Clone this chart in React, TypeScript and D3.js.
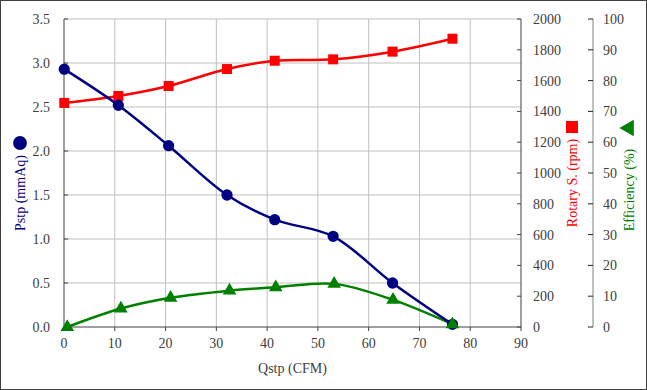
import React from "react";
import * as d3 from "d3";

// values
const qPress = [0.05, 10.7, 20.6, 32.1, 41.5, 53.0, 64.7, 76.5];
const pstp = [2.93, 2.52, 2.06, 1.5, 1.22, 1.03, 0.5, 0.03];
const rpm = [1455, 1500, 1565, 1675, 1729, 1738, 1788, 1872];
const qEff = [0.65, 11.2, 21.0, 32.6, 41.7, 53.2, 64.8, 76.5];
const eff = [0, 6, 9.5, 11.8, 12.9, 14.0, 8.8, 0.9];

const xTicks = [0, 10, 20, 30, 40, 50, 60, 70, 80, 90];
const pTicks = [0, 0.5, 1, 1.5, 2, 2.5, 3, 3.5];
const rTicks = [0, 200, 400, 600, 800, 1000, 1200, 1400, 1600, 1800, 2000];
const eTicks = [0, 10, 20, 30, 40, 50, 60, 70, 80, 90, 100];

const W = 647;
const H = 390;
const left = 64;
const right = 521;
const top = 19;
const bottom = 327;
const effAxisX = 593;

const NAVY = "#000080";
const RED = "#ff0000";
const GREEN = "#008000";
const TXT = "#404040";
const FONT = "'Liberation Serif', 'Times New Roman', serif";

export default function App() {
  const x = d3.scaleLinear().domain([0, 90]).range([left, right]);
  const yP = d3.scaleLinear().domain([0, 3.5]).range([bottom, top]);
  const yR = d3.scaleLinear().domain([0, 2000]).range([bottom, top]);
  const yE = d3.scaleLinear().domain([0, 100]).range([bottom, top]);

  const curve = d3.curveCatmullRom.alpha(0.5);
  const line = d3.line<[number, number]>().x((d) => d[0]).y((d) => d[1]).curve(curve);

  const pPts: [number, number][] = qPress.map((q, i) => [x(q), yP(pstp[i])]);
  const rPts: [number, number][] = qPress.map((q, i) => [x(q), yR(rpm[i])]);
  const ePts: [number, number][] = qEff.map((q, i) => [x(q), yE(eff[i])]);

  const circle = d3.symbol().type(d3.symbolCircle).size(100)() as string;
  const square = d3.symbol().type(d3.symbolSquare).size(100)() as string;
  const triangle = d3.symbol().type(d3.symbolTriangle).size(80)() as string;

  return (
    <svg
      width={W}
      height={H}
      style={{ position: "absolute", left: 0, top: 0, background: "#fff" }}
      fontFamily={FONT}
      fontSize={14}
    >
      <rect x={0.5} y={0.5} width={W - 1} height={H - 1} fill="#fff" stroke="#404040" />

      {/* grid */}
      {xTicks.slice(1, -1).map((t) => (
        <line key={"gx" + t} x1={x(t)} x2={x(t)} y1={top} y2={bottom} stroke="#c0c0c0" />
      ))}
      {pTicks.slice(1).map((t) => (
        <line key={"gy" + t} x1={left} x2={right} y1={yP(t)} y2={yP(t)} stroke="#c0c0c0" />
      ))}

      {/* axes */}
      <line x1={left} x2={left} y1={top} y2={bottom} stroke="#404040" />
      <line x1={left} x2={right} y1={bottom} y2={bottom} stroke="#404040" />
      <line x1={right} x2={right} y1={top} y2={bottom} stroke="#404040" />
      <line x1={effAxisX} x2={effAxisX} y1={top} y2={bottom} stroke="#808080" />

      {xTicks.map((t) => (
        <g key={"xt" + t}>
          <line x1={x(t)} x2={x(t)} y1={bottom} y2={bottom + 4} stroke="#404040" />
          <text x={x(t)} y={348} textAnchor="middle" fill={TXT}>{t}</text>
        </g>
      ))}
      {pTicks.map((t) => (
        <g key={"pt" + t}>
          <line x1={left} x2={left + 4} y1={yP(t)} y2={yP(t)} stroke="#404040" />
          <text x={50} y={yP(t)} dy="0.35em" textAnchor="end" fill={TXT}>{t.toFixed(1)}</text>
        </g>
      ))}
      {rTicks.map((t) => (
        <g key={"rt" + t}>
          <line x1={right - 4} x2={right} y1={yR(t)} y2={yR(t)} stroke="#404040" />
          <text x={533} y={yR(t)} dy="0.35em" fill={TXT}>{t}</text>
        </g>
      ))}
      {eTicks.map((t) => (
        <g key={"et" + t}>
          <line x1={effAxisX - 5} x2={effAxisX} y1={yE(t)} y2={yE(t)} stroke="#202020" />
          <text x={603} y={yE(t)} dy="0.35em" fill={TXT}>{t}</text>
        </g>
      ))}

      {/* series */}
      <path d={line(ePts) as string} fill="none" stroke={GREEN} strokeWidth={2.5} />
      <path d={line(rPts) as string} fill="none" stroke={RED} strokeWidth={2.5} />
      <path d={line(pPts) as string} fill="none" stroke={NAVY} strokeWidth={2.5} />
      {rPts.map((p, i) => (
        <path key={"rm" + i} d={square} transform={`translate(${p[0]},${p[1]})`} fill={RED} />
      ))}
      {pPts.map((p, i) => (
        <path key={"pm" + i} d={circle} transform={`translate(${p[0]},${p[1]})`} fill={NAVY} />
      ))}
      {ePts.map((p, i) => (
        <path key={"em" + i} d={triangle} transform={`translate(${p[0]},${p[1]})`} fill={GREEN} />
      ))}

      {/* axis titles */}
      <text x={x(45)} y={373} textAnchor="middle" fill={TXT}>Qstp (CFM)</text>

      <text transform="translate(25,193) rotate(-90)" textAnchor="middle" fill={NAVY}>Pstp (mmAq)</text>
      <path d={d3.symbol().type(d3.symbolCircle).size(150)() as string} transform="translate(20,143)" fill={NAVY} />

      <text transform="translate(577,183) rotate(-90)" textAnchor="middle" fill={RED}>Rotary S. (rpm)</text>
      <path d={d3.symbol().type(d3.symbolSquare).size(144)() as string} transform="translate(572,127)" fill={RED} />

      <text transform="translate(634,190) rotate(-90)" textAnchor="middle" fill={GREEN}>Efficiency (%)</text>
      <path d={d3.symbol().type(d3.symbolTriangle).size(120)() as string} transform="translate(629,128) rotate(-90)" fill={GREEN} />
    </svg>
  );
}
